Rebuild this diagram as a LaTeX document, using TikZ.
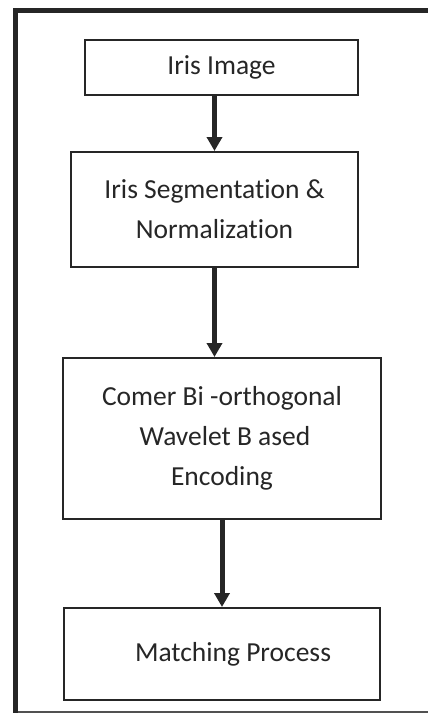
\documentclass[tikz,border=0pt]{standalone}
\usepackage{fontspec}
\setmainfont{Carlito}[Ligatures=NoCommon]
\usetikzlibrary{arrows.meta}
\definecolor{ink}{HTML}{262626}
\tikzset{
  stepbox/.style={draw=ink, line width=2pt, text=ink, align=center,
    font=\fontsize{27.5}{40}\selectfont, inner sep=0pt},
  flow/.style={draw=ink, line width=5pt,
    -{Triangle[width=15pt,length=14pt]}}
}
\begin{document}
\begin{tikzpicture}[x=1pt,y=-1pt]
\useasboundingbox (0,0) rectangle (428,713);
% outer frame
\draw[ink, line width=5pt] (15.5,713) -- (15.5,10.5) -- (428,10.5);
\draw[ink!80, line width=2pt] (18,712) -- (428,712);
% boxes
\node[stepbox, minimum width=273pt, minimum height=55pt] (b1) at (221.5,67.5) {Iris Image};
\node[stepbox, minimum width=287pt, minimum height=115pt] (b2) at (214.5,209.5) {Iris Segmentation \&\\Normalization};
\node[stepbox, minimum width=318pt, minimum height=161pt] (b3) at (222,438.5) {Comer Bi -orthogonal\\\hspace*{6pt}Wavelet B ased\\Encoding};
\node[stepbox, minimum width=316pt, minimum height=92pt] (b4) at (222,654) {\hspace*{22pt}Matching Process};
% connectors
\draw[flow] (b2.north |- b1.south) -- (b2.north);
\draw[flow] (b2.south) -- (b2.south |- b3.north);
\draw[flow] ([yshift=2pt]b3.south) -- (b4.north);
\end{tikzpicture}
\end{document}
